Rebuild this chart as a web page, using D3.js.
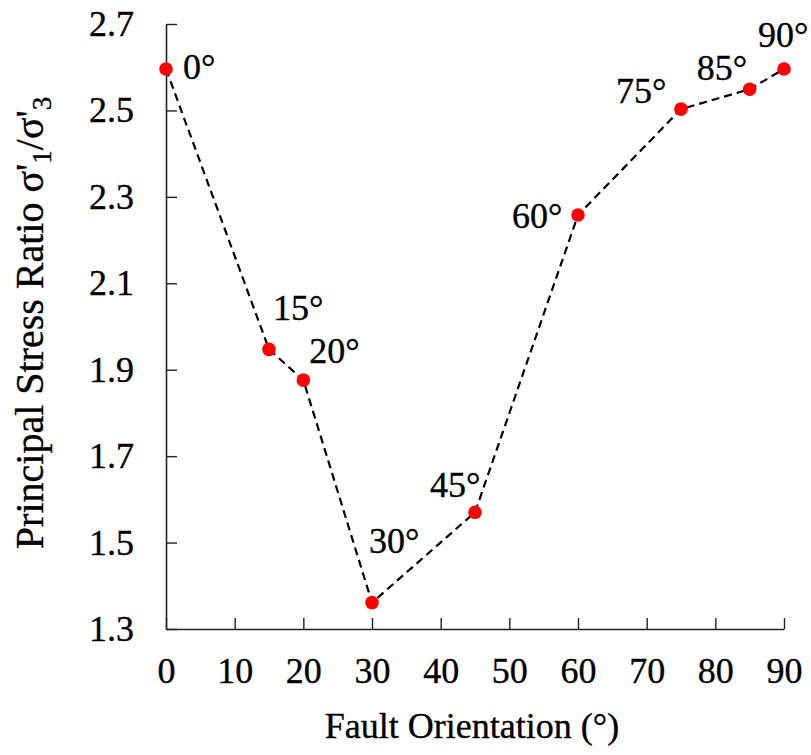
<!DOCTYPE html>
<html>
<head>
<meta charset="utf-8">
<script src="https://cdn.jsdelivr.net/npm/d3@7"></script>
<style>
  html, body { margin: 0; padding: 0; background: #fff; }
  svg text { font-family: "Liberation Serif", "Times New Roman", serif; fill: #000; stroke: #000; stroke-width: 0.35px; }
</style>
</head>
<body>
<svg id="chart" width="811" height="755"></svg>
<script>
// ---- data ----
const orientations = [0, 15, 20, 30, 45, 60, 75, 85, 90];
const stressRatio = [2.596, 1.947, 1.876, 1.361, 1.570, 2.258, 2.503, 2.549, 2.596];
const pointLabels = ["0°", "15°", "20°", "30°", "45°", "60°", "75°", "85°", "90°"];
const xTicks = [0, 10, 20, 30, 40, 50, 60, 70, 80, 90];
const yTicks = [1.3, 1.5, 1.7, 1.9, 2.1, 2.3, 2.5, 2.7];

// label placement offsets (px, relative to the point)
const labelOffsets = [[17, 10], [4, -29], [6, -17], [-3, -50], [-45, -15], [-66, 13], [-65, -6], [-53, -9], [-26, -22]];

const serif = '"Liberation Serif", "Times New Roman", serif';
const svg = d3.select("#chart");
const m = { left: 166, right: 784, top: 24, bottom: 629 };
const x = d3.scaleLinear().domain([0, 90]).range([m.left, m.right]);
const y = d3.scaleLinear().domain([1.3, 2.7]).range([m.bottom, m.top]);

const axisColor = "#222";
const tickFont = 36;

// x axis (ticks pointing inward)
const gx = svg.append("g").attr("transform", `translate(0,${m.bottom})`)
  .call(d3.axisBottom(x).tickValues(xTicks).tickSizeInner(-11).tickSizeOuter(0).tickPadding(0).tickFormat(d3.format("d")));
gx.attr("font-family", serif);
gx.select(".domain").attr("stroke", axisColor).attr("stroke-width", 1.6);
gx.selectAll(".tick line").attr("stroke", axisColor).attr("stroke-width", 1.4);
gx.selectAll(".tick text").attr("font-size", tickFont).attr("y", 54).attr("dy", null)
  .style("font-family", serif).attr("fill", "#000");

// y axis
const gy = svg.append("g").attr("transform", `translate(${m.left},0)`)
  .call(d3.axisLeft(y).tickValues(yTicks).tickSizeInner(-11).tickSizeOuter(0).tickPadding(0).tickFormat(d3.format(".1f")));
gy.attr("font-family", serif);
gy.select(".domain").attr("stroke", axisColor).attr("stroke-width", 1.6);
gy.selectAll(".tick line").attr("stroke", axisColor).attr("stroke-width", 1.4);
gy.selectAll(".tick text").attr("font-size", tickFont).attr("x", -32).attr("dy", 11.5)
  .style("font-family", serif).attr("fill", "#000");
svg.selectAll(".domain").attr("fill", "none");

// dashed line
const pts = orientations.map((o, i) => ({ o, v: stressRatio[i], label: pointLabels[i], off: labelOffsets[i] }));
svg.append("path").datum(pts)
  .attr("fill", "none").attr("stroke", "#000").attr("stroke-width", 2.2)
  .attr("stroke-dasharray", "8,5")
  .attr("d", d3.line().x(d => x(d.o)).y(d => y(d.v)));

// points
svg.append("g").selectAll("circle").data(pts).join("circle")
  .attr("cx", d => x(d.o)).attr("cy", d => y(d.v)).attr("r", 6.8).attr("fill", "#ff0000");

// point labels
svg.append("g").attr("font-family", serif).selectAll("text").data(pts).join("text")
  .attr("x", d => x(d.o) + d.off[0]).attr("y", d => y(d.v) + d.off[1])
  .attr("font-size", 36).style("font-family", serif).text(d => d.label);

// x title
svg.append("text").attr("x", 472).attr("y", 738).attr("text-anchor", "middle")
  .attr("font-size", 36).style("font-family", serif).text("Fault Orientation (°)");

// y title
const yt = svg.append("text").attr("transform", "translate(43,323) rotate(-90)")
  .attr("text-anchor", "middle").attr("font-size", 40).style("font-family", serif);
yt.append("tspan").text("Principal Stress Ratio σ'");
yt.append("tspan").attr("font-size", 27).attr("dy", 8).text("1");
yt.append("tspan").attr("dy", -8).text("/σ'");
yt.append("tspan").attr("font-size", 27).attr("dy", 8).text("3");
</script>
</body>
</html>
